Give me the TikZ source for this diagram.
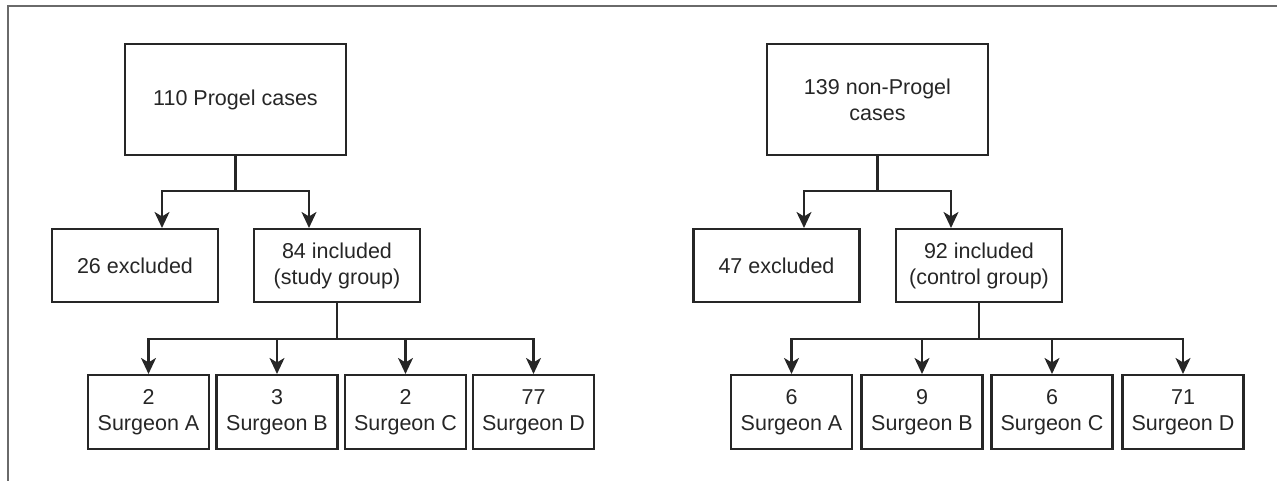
\documentclass[tikz,border=0pt]{standalone}
\usepackage{fontspec}
\setmainfont{Liberation Sans}
\usetikzlibrary{arrows.meta}
\definecolor{ink}{HTML}{262626}
\definecolor{framec}{HTML}{6A6A6A}
\tikzset{
  boxbase/.style={draw=ink, line width=2.1pt, rectangle, align=center, text=ink,
    font=\fontsize{21.5}{26}\selectfont, inner sep=0pt},
  bigbox/.style={boxbase, minimum width=221pt, minimum height=111pt},
  midbox/.style={boxbase, minimum width=166pt, minimum height=73pt},
  smallbox/.style={boxbase, minimum width=121pt, minimum height=74pt},
  conn/.style={draw=ink, line width=2.1pt},
  arr/.style={conn, -{Stealth[length=16pt, width=15pt, inset=4.5pt]}},
}
\begin{document}
\begin{tikzpicture}[x=1pt, y=-1pt]
\useasboundingbox (0,0) rectangle (1277,481);
% partial frame
\draw[framec, line width=2.2pt] (8,481) -- (8,6) -- (1277,6);

% left tree
\node[bigbox] (topL) at (235.5,99.5) {110 Progel cases};
\node[midbox] (exclL) at (135,265.5) {26 excluded};
\node[midbox] (inclL) at (337,265.5) {84 included\\(study group)};
\node[smallbox] (aL) at (148.5,412) {2\\Surgeon A};
\node[smallbox] (bL) at (277,412) {3\\Surgeon B};
\node[smallbox] (cL) at (405.5,412) {2\\Surgeon C};
\node[smallbox] (dL) at (533.5,412) {77\\Surgeon D};

% right tree
\node[bigbox] (topR) at (877.5,99.5) {139 non-Progel\\cases};
\node[midbox] (exclR) at (776.5,265.5) {47 excluded};
\node[midbox] (inclR) at (979,265.5) {92 included\\(control group)};
\node[smallbox] (aR) at (791.5,412) {6\\Surgeon A};
\node[smallbox] (bR) at (922,412) {9\\Surgeon B};
\node[smallbox] (cR) at (1052,412) {6\\Surgeon C};
\node[smallbox] (dR) at (1183,412) {71\\Surgeon D};

% left connectors
\draw[conn] (topL.south) -- (topL.south |- 0,191) coordinate (hL);
\draw[arr] (hL) -| ([xshift=27pt]exclL.north);
\draw[arr] (hL) -| ([xshift=-28pt]inclL.north);
\draw[conn] (inclL.south) -- (inclL.south |- 0,339) coordinate (gL);
\foreach \n in {aL,bL,cL,dL} \draw[arr] (gL) -| (\n.north);

% right connectors
\draw[conn] (topR.south) -- (topR.south |- 0,191) coordinate (hR);
\draw[arr] (hR) -| ([xshift=27.5pt]exclR.north);
\draw[arr] (hR) -| ([xshift=-28pt]inclR.north);
\draw[conn] (inclR.south) -- (inclR.south |- 0,339) coordinate (gR);
\foreach \n in {aR,bR,cR,dR} \draw[arr] (gR) -| (\n.north);
\end{tikzpicture}
\end{document}
